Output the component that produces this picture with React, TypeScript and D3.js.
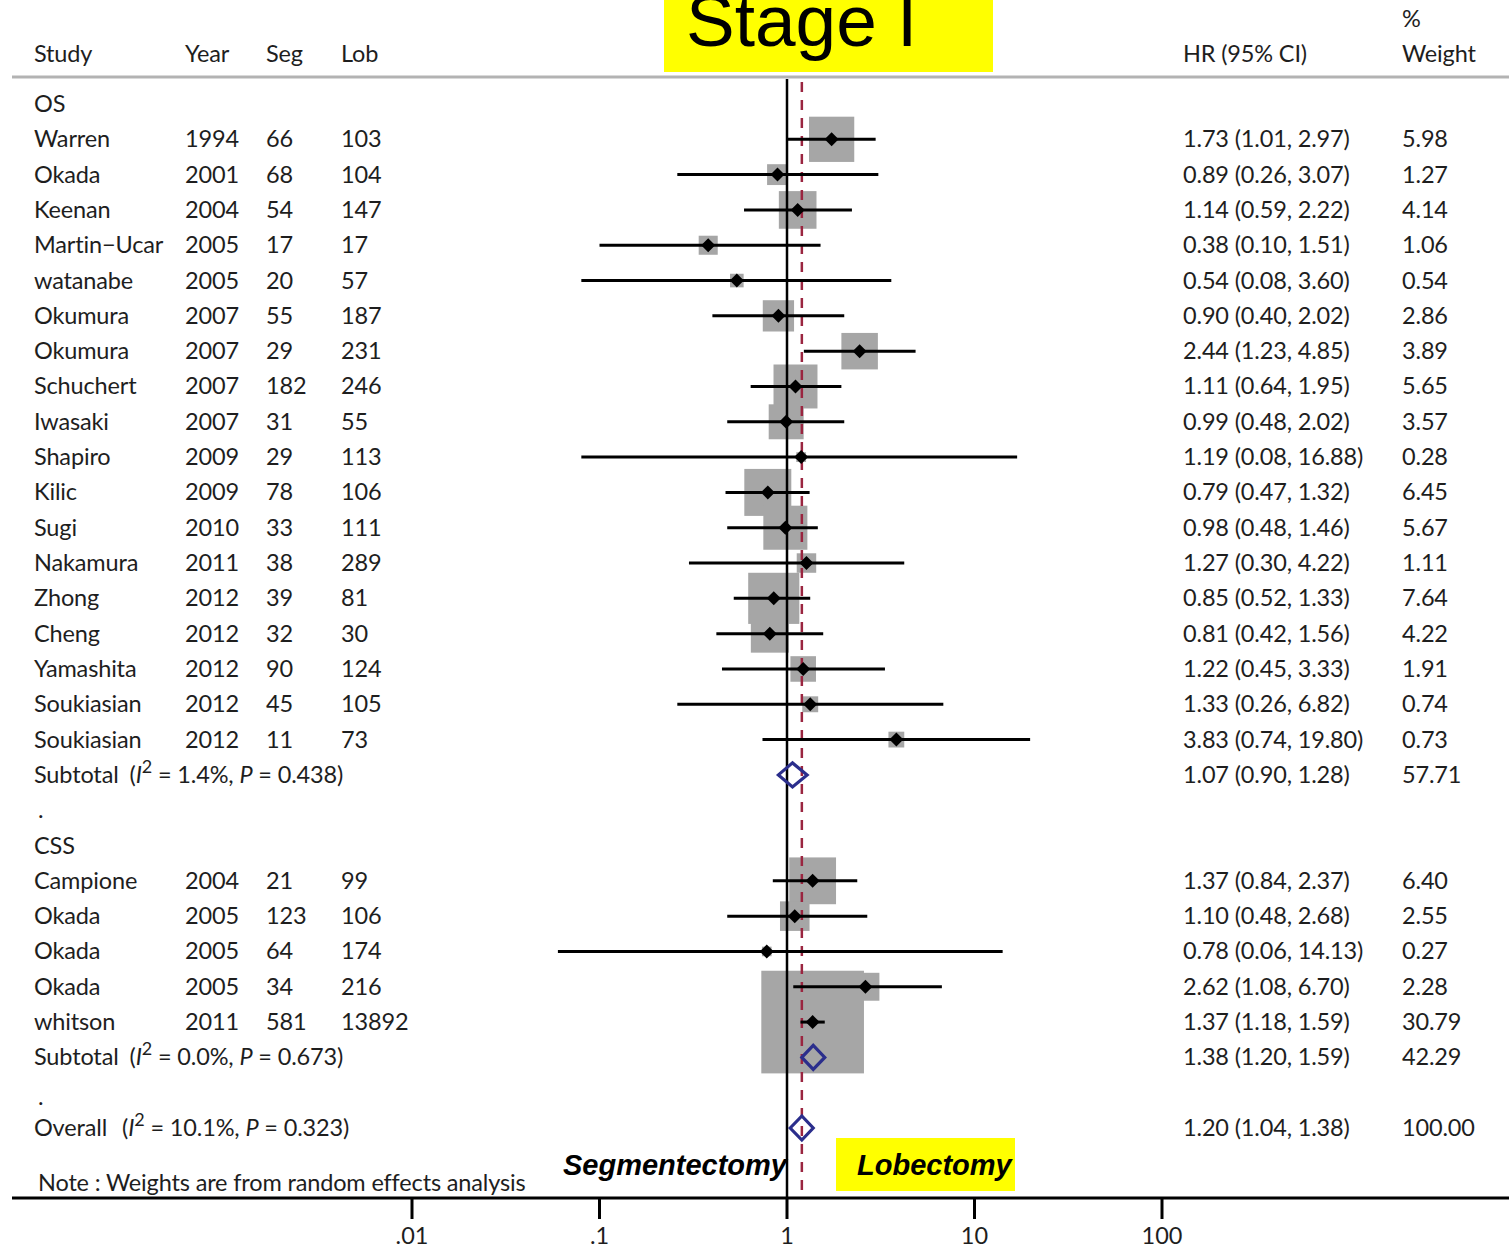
import React from 'react';
import * as d3 from 'd3';

// study rows, in plot order
const osStudies = ['Warren', 'Okada', 'Keenan', 'Martin\u2212Ucar', 'watanabe', 'Okumura', 'Okumura', 'Schuchert', 'Iwasaki', 'Shapiro', 'Kilic', 'Sugi', 'Nakamura', 'Zhong', 'Cheng', 'Yamashita', 'Soukiasian', 'Soukiasian'];
const osYear = [1994, 2001, 2004, 2005, 2005, 2007, 2007, 2007, 2007, 2009, 2009, 2010, 2011, 2012, 2012, 2012, 2012, 2012];
const osSeg = [66, 68, 54, 17, 20, 55, 29, 182, 31, 29, 78, 33, 38, 39, 32, 90, 45, 11];
const osLob = [103, 104, 147, 17, 57, 187, 231, 246, 55, 113, 106, 111, 289, 81, 30, 124, 105, 73];
const osHR = [1.73, 0.89, 1.14, 0.38, 0.54, 0.9, 2.44, 1.11, 0.99, 1.19, 0.79, 0.98, 1.27, 0.85, 0.81, 1.22, 1.33, 3.83];
const osLo = [1.01, 0.26, 0.59, 0.1, 0.08, 0.4, 1.23, 0.64, 0.48, 0.08, 0.47, 0.48, 0.3, 0.52, 0.42, 0.45, 0.26, 0.74];
const osHi = [2.97, 3.07, 2.22, 1.51, 3.6, 2.02, 4.85, 1.95, 2.02, 16.88, 1.32, 1.46, 4.22, 1.33, 1.56, 3.33, 6.82, 19.8];
const osWeight = ['5.98', '1.27', '4.14', '1.06', '0.54', '2.86', '3.89', '5.65', '3.57', '0.28', '6.45', '5.67', '1.11', '7.64', '4.22', '1.91', '0.74', '0.73'];

const cssStudies = ['Campione', 'Okada', 'Okada', 'Okada', 'whitson'];
const cssYear = [2004, 2005, 2005, 2005, 2011];
const cssSeg = [21, 123, 64, 34, 581];
const cssLob = [99, 106, 174, 216, 13892];
const cssHR = [1.37, 1.1, 0.78, 2.62, 1.37];
const cssLo = [0.84, 0.48, 0.06, 1.08, 1.18];
const cssHi = [2.37, 2.68, 14.13, 6.7, 1.59];
const cssWeight = ['6.40', '2.55', '0.27', '2.28', '30.79'];

// pooled estimates: OS subtotal, CSS subtotal, overall
const pooledLabel = ['Subtotal', 'Subtotal', 'Overall'];
const pooledI2 = ['1.4%', '0.0%', '10.1%'];
const pooledP = ['0.438', '0.673', '0.323'];
const pooledHR = [1.07, 1.38, 1.2];
const pooledLo = [0.9, 1.2, 1.04];
const pooledHi = [1.28, 1.59, 1.38];
const pooledWeight = ['57.71', '42.29', '100.00'];

const xTicks = [0.01, 0.1, 1, 10, 100];
const xTickLabels = ['.01', '.1', '1', '10', '100'];

const W = 1509;
const H = 1251;
const FONT = "Lato, 'Open Sans', sans-serif";
const fs = 23.5;
const ls = -0.15;

const fmt = (v) => d3.format('.2f')(v);

export default function App() {
  const x = d3.scaleLog().domain([0.01, 100]).range([412, 1162]);
  const y = d3.scaleLinear().domain([0, 29]).range([104, 1128]);
  const boxSide = (w) => 18.5 * Math.sqrt(+w);

  const rows = [];
  osStudies.forEach((s, i) =>
    rows.push({ row: 1 + i, name: s, year: osYear[i], seg: osSeg[i], lob: osLob[i], hr: osHR[i], lo: osLo[i], hi: osHi[i], w: osWeight[i] })
  );
  cssStudies.forEach((s, i) =>
    rows.push({ row: 22 + i, name: s, year: cssYear[i], seg: cssSeg[i], lob: cssLob[i], hr: cssHR[i], lo: cssLo[i], hi: cssHi[i], w: cssWeight[i] })
  );
  const pooledRows = [19, 27, 29];

  const axisY = 1198;
  const col = { study: 34, year: 185, seg: 266, lob: 341, hr: 1183, wt: 1402 };
  const base = (r) => y(r) + 8;

  const diamond = (cx, cy, r) => `M${cx - r},${cy}L${cx},${cy - r}L${cx + r},${cy}L${cx},${cy + r}Z`;

  return (
    <div style={{ position: 'absolute', left: 0, top: 0 }}>
      <svg width={W} height={H} style={{ display: 'block', background: '#fff' }} fontFamily={FONT}>
        {/* title */}
        <rect x={664} y={0} width={329} height={72} fill="#ffff00" />
        <text x={686} y={46} fontFamily="'Liberation Sans', Arial, sans-serif" fontSize={73} fill="#000">
          Stage I
        </text>

        {/* header */}
        <g fontSize={fs} fill="#1e1e1e" letterSpacing={ls}>
          <text x={col.study} y={62}>Study</text>
          <text x={col.year} y={62}>Year</text>
          <text x={col.seg} y={62}>Seg</text>
          <text x={col.lob} y={62}>Lob</text>
          <text x={col.hr} y={62}>HR (95% CI)</text>
          <text x={col.wt} y={27}>%</text>
          <text x={col.wt} y={62}>Weight</text>
        </g>
        <line x1={12} x2={W} y1={77} y2={77} stroke="#b3b3b3" strokeWidth={3} />

        {/* boxes first */}
        <g fill="#a6a6a6">
          {rows.map((d, i) => {
            const s = boxSide(d.w);
            return <rect key={i} x={x(d.hr) - s / 2} y={y(d.row) - s / 2} width={s} height={s} />;
          })}
        </g>

        {/* null line and overall line */}
        <line x1={x(1)} x2={x(1)} y1={79} y2={axisY} stroke="#000" strokeWidth={2.5} />
        <line x1={x(pooledHR[2])} x2={x(pooledHR[2])} y1={82} y2={axisY} stroke="#9a2540" strokeWidth={2.5} strokeDasharray="10,8" />

        {/* CIs and point estimates */}
        <g>
          {rows.map((d, i) => (
            <g key={i}>
              <line x1={x(d.lo)} x2={x(d.hi)} y1={y(d.row)} y2={y(d.row)} stroke="#000" strokeWidth={3} />
              <path d={diamond(x(d.hr), y(d.row), 7)} fill="#000" />
            </g>
          ))}
        </g>

        {/* pooled diamonds */}
        {pooledRows.map((r, i) => (
          <path
            key={i}
            d={`M${x(pooledLo[i])},${y(r)}L${x(pooledHR[i])},${y(r) - 12}L${x(pooledHi[i])},${y(r)}L${x(pooledHR[i])},${y(r) + 12}Z`}
            fill="none"
            stroke="#2b2e8c"
            strokeWidth={3.2}
          />
        ))}

        {/* left and right columns */}
        <g fontSize={fs} fill="#1e1e1e" letterSpacing={ls}>
          <text x={col.study} y={base(0)}>OS</text>
          <text x={col.study} y={base(21)}>CSS</text>
          <text x={38} y={base(20)}>.</text>
          <text x={38} y={base(28) + 4}>.</text>
          {rows.map((d, i) => (
            <g key={i}>
              <text x={col.study} y={base(d.row)}>{d.name}</text>
              <text x={col.year} y={base(d.row)}>{d.year}</text>
              <text x={col.seg} y={base(d.row)}>{d.seg}</text>
              <text x={col.lob} y={base(d.row)}>{d.lob}</text>
              <text x={col.hr} y={base(d.row)}>{`${fmt(d.hr)} (${fmt(d.lo)}, ${fmt(d.hi)})`}</text>
              <text x={col.wt} y={base(d.row)}>{d.w}</text>
            </g>
          ))}
          {pooledRows.map((r, i) => (
            <g key={i}>
              <text x={col.study} y={base(r)}>
                {pooledLabel[i]}
                <tspan dx={i === 2 ? 15 : 11}>(</tspan>
                <tspan fontStyle="italic">I</tspan>
                <tspan dy={-10} fontSize={18}>2</tspan>
                <tspan dy={10}>{` = ${pooledI2[i]}, `}</tspan>
                <tspan fontStyle="italic">P</tspan>
                <tspan>{` = ${pooledP[i]})`}</tspan>
              </text>
              <text x={col.hr} y={base(r)}>{`${fmt(pooledHR[i])} (${fmt(pooledLo[i])}, ${fmt(pooledHi[i])})`}</text>
              <text x={col.wt} y={base(r)}>{pooledWeight[i]}</text>
            </g>
          ))}
          <text x={38} y={1191}>Note : Weights are from random effects analysis</text>
        </g>

        {/* direction labels */}
        <rect x={836} y={1138} width={179} height={53} fill="#ffff00" />
        <g fontFamily="'Liberation Sans', Arial, sans-serif" fontSize={29} fontWeight="bold" fontStyle="italic" fill="#000">
          <text x={787} y={1175} textAnchor="end">Segmentectomy</text>
          <text x={857} y={1175}>Lobectomy</text>
        </g>

        {/* x axis */}
        <line x1={12} x2={W} y1={axisY} y2={axisY} stroke="#000" strokeWidth={3} />
        {xTicks.map((t, i) => (
          <g key={i}>
            <line x1={x(t)} x2={x(t)} y1={axisY} y2={axisY + 21} stroke="#000" strokeWidth={3} />
            <text x={x(t)} y={1244} textAnchor="middle" fontSize={fs} fill="#1e1e1e">
              {xTickLabels[i]}
            </text>
          </g>
        ))}
      </svg>
    </div>
  );
}
